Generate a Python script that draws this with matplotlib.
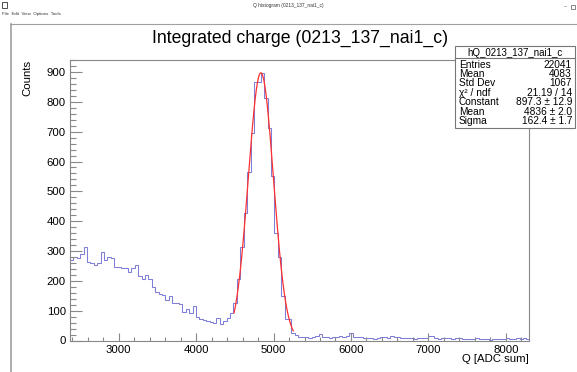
import matplotlib
matplotlib.use('Agg')
import matplotlib.pyplot as plt
import numpy as np
from matplotlib.patches import Rectangle
from matplotlib.lines import Line2D
from matplotlib.ticker import MultipleLocator

plt.rcParams['font.family'] = ['Liberation Sans', 'DejaVu Sans']

# histogram bins (width 44 ADC, starting at 2370)
bin_start = 2370
bin_width = 44
counts = [
    270, 281, 276, 290, 313, 262, 259, 254, 259, 296,
    270, 279, 276, 248, 246, 244, 242, 229, 242, 252,
    217, 206, 219, 205, 181, 163, 156, 152, 137, 148,
    127, 127, 124, 96, 104, 91, 114, 78, 71, 69,
    66, 63, 60, 76, 54, 66, 77, 91, 125, 205,
    315, 427, 566, 695, 868, 868, 897, 813, 712, 550,
    362, 281, 150, 71, 71, 26, 18,
    11, 11, 12, 10, 12, 15, 22, 11, 12, 10,
    13, 12, 14, 13, 16, 24, 13, 11, 12, 8,
    7, 9, 6, 8, 12, 13, 10, 14, 11, 12,
    9, 10, 8, 9, 6, 8, 7, 9, 15, 16,
    8, 6, 7, 7, 9, 6, 8, 7, 6, 5,
    6, 4, 7, 5, 4, 6, 3, 5, 4, 6,
    4, 7, 6, 5, 8, 6, 7, 6,
]

# gaussian fit shown in the stats box
fit_const = 897.3
fit_mean = 4836
fit_sigma = 162.4
fit_lo, fit_hi = 4490, 5255

x_range = (2370, 8300)
y_max = 942

stats_name = 'hQ_0213_137_nai1_c'
stats_rows = [
    ('Entries', '22041'),
    ('Mean', '4083'),
    ('Std Dev', '1067'),
    ('χ² / ndf', '21.19 / 14'),
    ('Constant', '897.3 ± 12.9'),
    ('Mean', '4836 ± 2.0'),
    ('Sigma', '162.4 ± 1.7'),
]

W, H = 577, 372
fig = plt.figure(figsize=(W / 100, H / 100), dpi=100)
fig.patch.set_facecolor('white')


def fx(px):
    return px / W


def fy(py):
    return 1 - py / H


# window chrome
gray = '#a0a0a0'
fig.add_artist(Line2D([fx(10), fx(577)], [fy(24), fy(24)], color=gray, lw=0.8))
fig.add_artist(Line2D([fx(10.5), fx(10.5)], [fy(24), fy(372)], color=gray, lw=1.2))
fig.add_artist(Rectangle((fx(2), fy(8)), fx(5), fy(2) - fy(8), fill=False, ec='#333333', lw=0.6))
fig.text(0.5, fy(6), 'Q histogram (0213_137_nai1_c)', ha='center', va='center', fontsize=3.5, color='#333333')
fig.text(fx(2), fy(14.5), 'File  Edit  View  Options  Tools', ha='left', va='center', fontsize=3.2, color='#333333')
fig.text(fx(566), fy(7), '–', ha='center', va='center', fontsize=4, color='#555555')
fig.add_artist(Rectangle((fx(571), fy(9)), fx(4), fy(5) - fy(9), fill=False, ec='#555555', lw=0.5))

ax = fig.add_axes([fx(70), fy(340.5), fx(529) - fx(70), fy(59.5) - fy(340.5)])
edges = bin_start + bin_width * np.arange(len(counts) + 1)
ax.stairs(counts, edges, baseline=None, color='#7e7ed8', lw=0.75)

xf = np.linspace(fit_lo, fit_hi, 400)
ax.plot(xf, fit_const * np.exp(-0.5 * ((xf - fit_mean) / fit_sigma) ** 2), color='#ff3030', lw=0.9)

ax.set_xlim(*x_range)
ax.set_ylim(0, y_max)
ax.xaxis.set_major_locator(MultipleLocator(1000))
ax.xaxis.set_minor_locator(MultipleLocator(200))
ax.yaxis.set_major_locator(MultipleLocator(100))
ax.yaxis.set_minor_locator(MultipleLocator(20))
ax.tick_params(which='both', direction='in', top=False, right=False,
               color='#888888', width=0.8, labelsize=8.2, pad=3)
ax.tick_params(axis='x', which='major', length=5.8)
ax.tick_params(axis='x', which='minor', length=2.9)
ax.tick_params(axis='y', which='major', length=8.6)
ax.tick_params(axis='y', which='minor', length=4.3)
for s in ax.spines.values():
    s.set_color('#888888')
    s.set_linewidth(0.8)

fig.text(fx(300), fy(38), 'Integrated charge (0213_137_nai1_c)', ha='center', va='center', fontsize=12.7)
fig.text(fx(529), fy(359), 'Q [ADC sum]', ha='right', va='center', fontsize=8.2)
fig.text(fx(27), fy(60), 'Counts', ha='center', va='top', rotation=90, fontsize=8.2)

# stats box
bx0, bx1, by0, by1 = 455, 575, 46, 128
fig.add_artist(Rectangle((fx(bx0), fy(by1)), fx(bx1) - fx(bx0), fy(by0) - fy(by1),
                         facecolor='white', edgecolor='#777777', lw=0.8, zorder=5))
fig.add_artist(Line2D([fx(bx0), fx(bx1)], [fy(58), fy(58)], color='#777777', lw=0.8, zorder=6))
fig.text(fx((bx0 + bx1) / 2), fy(52.5), stats_name, ha='center', va='center', fontsize=7.0, zorder=7)
for i, (lab, val) in enumerate(stats_rows):
    yy = 64.5 + i * 9.45
    fig.text(fx(459), fy(yy), lab, ha='left', va='center', fontsize=7.3, zorder=7)
    fig.text(fx(572), fy(yy), val, ha='right', va='center', fontsize=7.3, zorder=7)

fig.savefig('out.png', dpi=100)
